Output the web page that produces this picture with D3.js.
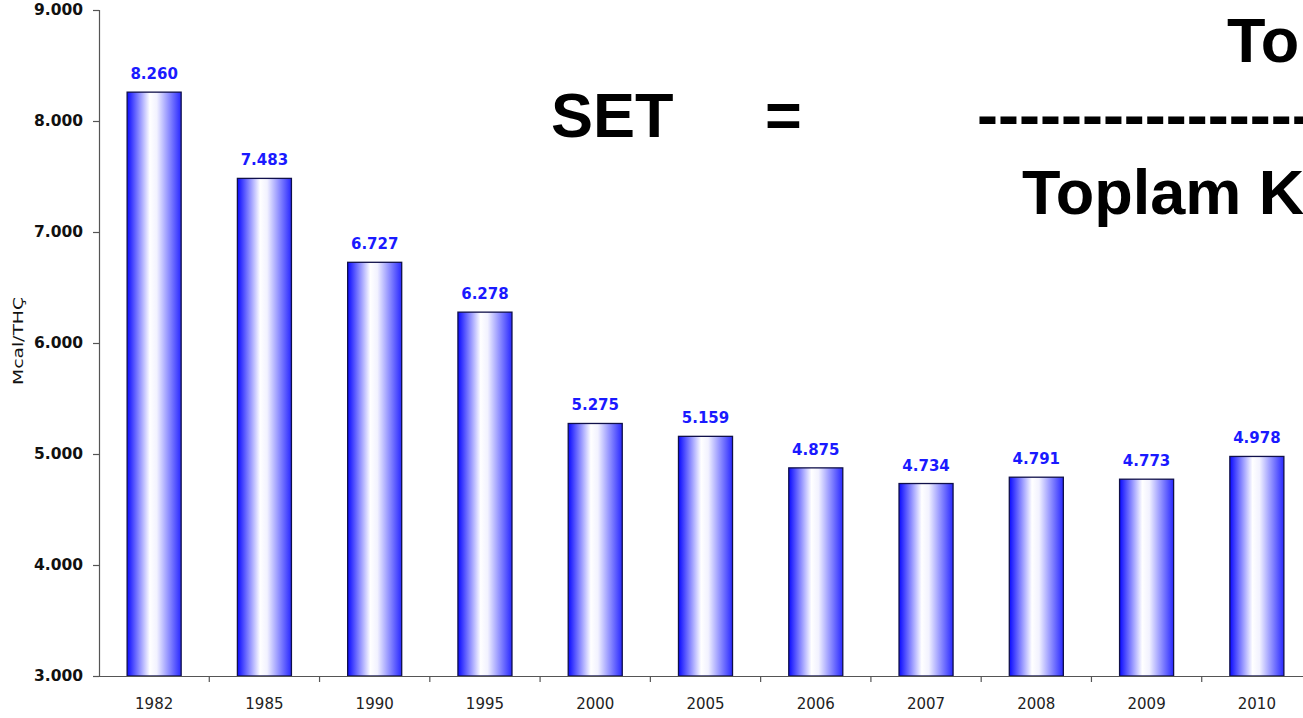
<!DOCTYPE html>
<html>
<head>
<meta charset="utf-8">
<script src="https://cdn.jsdelivr.net/npm/d3@7"></script>
<style>
html,body{margin:0;padding:0;background:#fff;overflow:hidden;}
svg{display:block;}
</style>
</head>
<body>
<svg id="chart" width="1303" height="718"></svg>
<script>
const categories = ["1982","1985","1990","1995","2000","2005","2006","2007","2008","2009","2010"];
const values = [8260,7483,6727,6278,5275,5159,4875,4734,4791,4773,4978];
const yTicks = [3000,4000,5000,6000,7000,8000,9000];
const yTitle = "Mcal/THÇ";
const formulaLeft = "SET";
const formulaEq = "=";
const formulaDash = "-----------------";
const numerator = "To";
const denominator = "Toplam K";

const svg = d3.select("#chart");
const margin = {left: 99, top: 10, bottom: 676, right: 1312};
const fmt = v => d3.format(",")(v).replace(/,/g, ".");

const x = d3.scaleBand().domain(categories).range([margin.left, margin.right]).paddingInner(0.51).paddingOuter(0.255);
const y = d3.scaleLinear().domain([3000, 9000]).range([margin.bottom, margin.top]);

const defs = svg.append("defs");
const grad = defs.append("linearGradient").attr("id","barGrad").attr("x1","0%").attr("x2","100%").attr("y1","0%").attr("y2","0%");
grad.append("stop").attr("offset","0%").attr("stop-color","#0a0aff");
grad.append("stop").attr("offset","42%").attr("stop-color","#ffffff");
grad.append("stop").attr("offset","55%").attr("stop-color","#f2f2ff");
grad.append("stop").attr("offset","100%").attr("stop-color","#2828ff");

// bars
svg.append("g").selectAll("rect").data(values).join("rect")
  .attr("x", (d,i) => x(categories[i]))
  .attr("y", d => y(d))
  .attr("width", x.bandwidth())
  .attr("height", d => y(3000) - y(d))
  .attr("fill", "url(#barGrad)")
  .attr("stroke", "#10104a")
  .attr("stroke-width", 1.3);

// value labels
svg.append("g").selectAll("text").data(values).join("text")
  .attr("x", (d,i) => x(categories[i]) + x.bandwidth()/2)
  .attr("y", d => y(d) - 13)
  .attr("text-anchor","middle")
  .attr("font-family","Verdana, 'DejaVu Sans', sans-serif")
  .attr("font-weight","bold")
  .attr("font-size","15px")
  .attr("fill","#1a1aff")
  .text(d => fmt(d));

// y axis
const yAxis = svg.append("g").attr("transform",`translate(${margin.left},0)`)
  .call(d3.axisLeft(y).tickValues(yTicks).tickSize(6).tickPadding(10).tickFormat(fmt));
yAxis.select(".domain").attr("stroke","#555").attr("stroke-width",1.2);
yAxis.selectAll(".tick line").attr("stroke","#555").attr("stroke-width",1.2);
yAxis.selectAll("text").attr("font-family","Verdana, 'DejaVu Sans', sans-serif")
  .attr("font-weight","bold").attr("font-size","15.5px").attr("fill","#111");

// x axis
const xAxis = svg.append("g").attr("transform",`translate(0,${margin.bottom})`)
  .call(d3.axisBottom(x).tickSize(0).tickPadding(22));
xAxis.select(".domain").attr("stroke","#555").attr("stroke-width",1.2);
xAxis.selectAll("text").attr("font-family","Verdana, 'DejaVu Sans', sans-serif")
  .attr("font-size","15px").attr("fill","#222");
// boundary ticks
const step = x.step();
svg.append("g").selectAll("line").data(categories.slice(1)).join("line")
  .attr("x1", c => x(c) - (step - x.bandwidth())/2)
  .attr("x2", c => x(c) - (step - x.bandwidth())/2)
  .attr("y1", margin.bottom)
  .attr("y2", margin.bottom + 6)
  .attr("stroke","#555").attr("stroke-width",1.2);

// y title
svg.append("text")
  .attr("transform","translate(23,341) rotate(-90)")
  .attr("text-anchor","middle")
  .attr("font-family","Verdana, 'DejaVu Sans', sans-serif")
  .attr("font-size","14px")
  .attr("fill","#111")
  .attr("textLength", 88)
  .attr("lengthAdjust","spacingAndGlyphs")
  .text(yTitle);

// formula overlay (clipped at the right edge, as in the reference)
const big = {family: "Arial, 'Liberation Sans', sans-serif", size: "63px"};
function bigText(txt, xx, yy){
  svg.append("text").attr("x",xx).attr("y",yy)
    .attr("font-family",big.family).attr("font-weight","bold").attr("font-size",big.size)
    .attr("fill","#000").text(txt);
}
bigText(formulaLeft, 551, 137);
bigText(formulaEq, 765, 137);
bigText(formulaDash, 977, 137);
bigText(numerator, 1227, 62);
bigText(denominator, 1022, 214);
</script>
</body>
</html>
